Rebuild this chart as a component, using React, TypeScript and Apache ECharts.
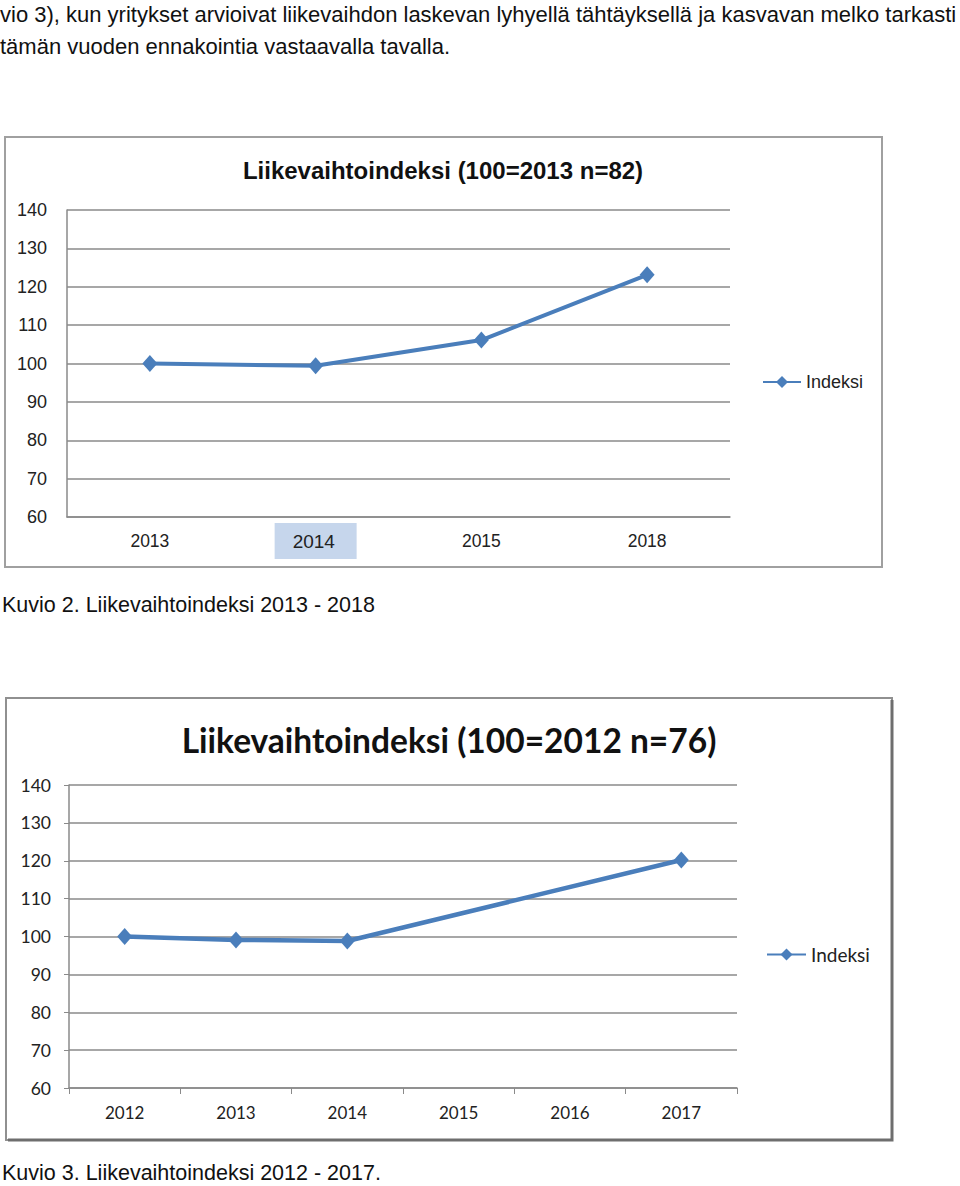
import React, { useEffect, useRef } from "react";
import * as echarts from "echarts";

const introLines = [
  "vio 3), kun yritykset arvioivat liikevaihdon laskevan lyhyellä tähtäyksellä ja kasvavan melko tarkasti",
  "tämän vuoden ennakointia vastaavalla tavalla.",
];
const title1 = "Liikevaihtoindeksi (100=2013 n=82)";
const title2 = "Liikevaihtoindeksi (100=2012 n=76)";
const caption1 = "Kuvio 2. Liikevaihtoindeksi 2013 - 2018";
const caption2 = "Kuvio 3. Liikevaihtoindeksi 2012 - 2017.";
const seriesName = "Indeksi";

const years1 = ["2013", "2014", "2015", "2018"];
const index1 = [100, 99.4, 106.1, 123.1];

const years2 = ["2012", "2013", "2014", "2015", "2016", "2017"];
const index2: (number | null)[] = [100, 99.1, 98.8, null, null, 120.2];

const yTicks = { min: 60, max: 140, interval: 10 };

const BLUE = "#4a7ebb";
const F1 = "'Liberation Sans', Arial, sans-serif";
const F2 = "Lato, 'Open Sans', sans-serif";

export default function App() {
  const ref = useRef<HTMLDivElement>(null);
  useEffect(() => {
    if (!ref.current) return;
    const chart = echarts.init(ref.current, null, { renderer: "svg" });
    chart.setOption({
      animation: false,
      backgroundColor: "#ffffff",
      grid: [
        { left: 67, top: 210, width: 663, height: 307 },
        { left: 69, top: 785, width: 668, height: 303 },
      ],
      xAxis: [
        {
          type: "category",
          gridIndex: 0,
          data: years1,
          boundaryGap: true,
          axisLine: { show: true, lineStyle: { color: "#8a8a8a", width: 1.5 } },
          axisTick: { show: false },
          axisLabel: {
            margin: 6,
            interval: 0,
            formatter: (v: string, i: number) => (i === 1 ? `{h|${v}}` : `{n|${v}}`),
            rich: {
              n: {
                height: 36,
                lineHeight: 36,
                fontFamily: F1,
                fontSize: 17.5,
                color: "#222",
              },
              h: {
                backgroundColor: "#c6d6ec",
                width: 64,
                height: 36,
                lineHeight: 36,
                padding: [0, 0, 0, 18],
                align: "left",
                fontFamily: F1,
                fontSize: 19,
                color: "#222",
              },
            },
          },
        },
        {
          type: "category",
          gridIndex: 1,
          data: years2,
          boundaryGap: true,
          axisLine: { show: true, lineStyle: { color: "#8a8a8a", width: 1.5 } },
          axisTick: { show: true, interval: 0, length: 6, lineStyle: { color: "#8a8a8a" } },
          axisLabel: { margin: 16, fontFamily: F2, fontSize: 17, color: "#222", interval: 0 },
        },
      ],
      yAxis: [
        {
          type: "value",
          gridIndex: 0,
          ...yTicks,
          axisLine: { show: true, lineStyle: { color: "#8a8a8a", width: 1.5 } },
          axisTick: { show: false },
          splitLine: { show: true, lineStyle: { color: "#8a8a8a", width: 1.5 } },
          axisLabel: { margin: 20, fontFamily: F1, fontSize: 18, color: "#222" },
        },
        {
          type: "value",
          gridIndex: 1,
          ...yTicks,
          axisLine: { show: true, lineStyle: { color: "#8a8a8a", width: 1.5 } },
          axisTick: { show: true, length: 5, lineStyle: { color: "#8a8a8a" } },
          splitLine: { show: true, lineStyle: { color: "#8a8a8a", width: 1.5 } },
          axisLabel: { margin: 18, fontFamily: F2, fontSize: 17.5, color: "#222" },
        },
      ],
      legend: [
        {
          data: [seriesName + " "],
          left: 757,
          top: 368,
          itemWidth: 38,
          itemHeight: 15,
          textStyle: { fontFamily: F1, fontSize: 18, color: "#222" },
        },
        {
          data: [seriesName],
          left: 761,
          top: 940,
          itemWidth: 39,
          itemHeight: 15,
          textStyle: { fontFamily: F2, fontSize: 19, color: "#222" },
        },
      ],
      series: [
        {
          name: seriesName + " ",
          type: "line",
          xAxisIndex: 0,
          yAxisIndex: 0,
          data: index1,
          symbol: "diamond",
          symbolSize: [15, 17],
          lineStyle: { color: BLUE, width: 4 },
          itemStyle: { color: BLUE },
        },
        {
          name: seriesName,
          type: "line",
          xAxisIndex: 1,
          yAxisIndex: 1,
          data: index2,
          connectNulls: true,
          symbol: "diamond",
          symbolSize: [15, 17],
          lineStyle: { color: BLUE, width: 4.5 },
          itemStyle: { color: BLUE },
        },
      ],
      graphic: [
        {
          type: "rect",
          z: -1,
          shape: { x: 5, y: 137, width: 877, height: 430 },
          style: { fill: "#fff", stroke: "#a0a0a0", lineWidth: 2 },
        },
        {
          type: "rect",
          z: -1,
          shape: { x: 6, y: 698, width: 886, height: 442 },
          style: { fill: "#fff", stroke: "#909090", lineWidth: 2 },
        },
        {
          type: "polyline",
          z: -1,
          shape: { points: [[892, 700], [892, 1140], [8, 1140]] },
          style: { stroke: "#6e6e6e", lineWidth: 3, fill: null },
        },
        {
          type: "text",
          x: 0,
          y: 14,
          style: { text: introLines[0], fontFamily: F1, fontSize: 22, fill: "#111", verticalAlign: "middle" },
        },
        {
          type: "text",
          x: 0,
          y: 46,
          style: { text: introLines[1], fontFamily: F1, fontSize: 22, fill: "#111", verticalAlign: "middle" },
        },
        {
          type: "text",
          x: 443,
          y: 170,
          style: {
            text: title1,
            fontFamily: F1,
            fontSize: 24,
            fontWeight: "bold",
            fill: "#111",
            align: "center",
            verticalAlign: "middle",
          },
        },
        {
          type: "text",
          x: 449,
          y: 740,
          style: {
            text: title2,
            fontFamily: F2,
            fontSize: 33.5,
            fontWeight: "bold",
            fill: "#111",
            align: "center",
            verticalAlign: "middle",
          },
        },
        {
          type: "text",
          x: 2,
          y: 605,
          style: { text: caption1, fontFamily: F1, fontSize: 21.5, fill: "#111", verticalAlign: "middle" },
        },
        {
          type: "text",
          x: 2,
          y: 1173,
          style: { text: caption2, fontFamily: F1, fontSize: 21.5, fill: "#111", verticalAlign: "middle" },
        },
      ],
    });
    return () => chart.dispose();
  }, []);
  return (
    <div
      ref={ref}
      style={{ position: "absolute", left: 0, top: 0, width: 960, height: 1186 }}
    />
  );
}
